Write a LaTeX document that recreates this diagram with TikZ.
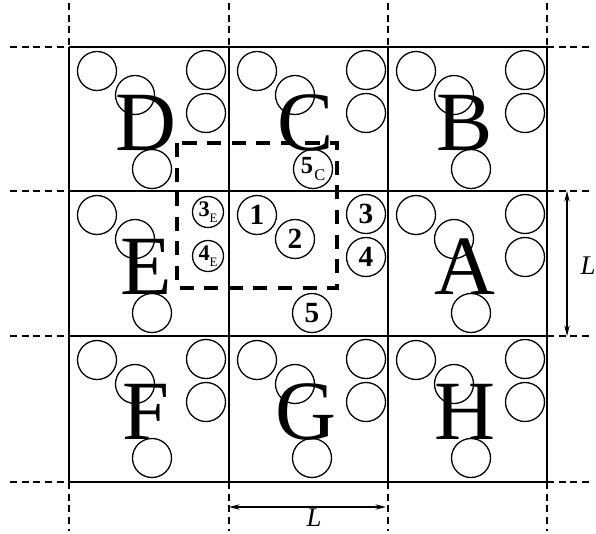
\documentclass[tikz,border=0pt]{standalone}
\usepackage{fontspec}
\setmainfont{Liberation Serif}
\usepackage{tikz}
\usetikzlibrary{
	calc,
	arrows.meta
}

\begin{document}
\begin{tikzpicture}[
	x=0.03cm,
	y=-0.03cm,
	gridline/.style={line width=1.4pt},
	extline/.style={line width=1.1pt, dash pattern=on 6pt off 4pt},
	unitcell/.style={line width=2.6pt, dash pattern=on 12pt off 9pt},
	atom/.style={draw, circle, line width=1.1pt, minimum size=1.17cm, inner sep=0pt},
	smallatom/.style={draw, circle, line width=1.1pt, minimum size=0.93cm, inner sep=0pt},
	celltag/.style={font=\fontsize{72}{72}\selectfont, inner sep=0pt},
	num/.style={font=\fontsize{25}{25}\selectfont\bfseries},
	dimlabel/.style={font=\fontsize{23}{23}\selectfont\itshape, inner sep=0pt},
	dimarrow/.style={<->, >={Stealth[length=9pt,width=4.5pt]}, line width=1.1pt}
	]
	
	\useasboundingbox (0,0) rectangle (596,533);
	
	% lattice lines and their dashed continuation
	\foreach \gx in {69,229,388,547} {
		\draw[gridline] (\gx,47) -- (\gx,482);
		\draw[extline] (\gx,3) -- (\gx,47);
		\draw[extline] (\gx,482) -- (\gx,531);
	}
	\foreach \gy in {47,191,336,482} {
		\draw[gridline] (69,\gy) -- (547,\gy);
		\draw[extline] (10,\gy) -- (69,\gy);
		\draw[extline] (547,\gy) -- (592,\gy);
	}
	
	% image cells
	\foreach \cname/\cx/\cy in {A/388/191,B/388/47,C/229/47,D/69/47,E/69/191,F/69/336,G/229/336,H/388/336} {
		\node[atom] (\cname-1) at (\cx+28,\cy+24) {};
		\node[atom] (\cname-2) at (\cx+66,\cy+48) {};
		\node[celltag] (\cname) at (\cx+77,\cy+76) {\cname};
	}
	\foreach \cname/\cx/\cy in {A/388/191,B/388/47,C/229/47,D/69/47,F/69/336,G/229/336,H/388/336} {
		\node[atom] (\cname-3) at (\cx+137,\cy+23) {};
		\node[atom] (\cname-4) at (\cx+137,\cy+66) {};
	}
	\foreach \cname/\cx/\cy in {A/388/191,B/388/47,D/69/47,E/69/191,F/69/336,G/229/336,H/388/336} {
		\node[atom] (\cname-5) at (\cx+83,\cy+122) {};
	}
	
	% central cell
	\node[atom, num] (one) at (257,215) {1};
	\node[atom, num] (two) at (295,239) {2};
	\node[atom, num] (three) at (366,214) {3};
	\node[atom, num] (four) at (366,257) {4};
	\node[atom, num] (five) at (312,313) {5};
	
	\node[smallatom] (threeE) at (208,212)
	{{\fontsize{19}{19}\selectfont\bfseries 3}\raisebox{-5pt}{\fontsize{11}{11}\selectfont E}};
	\node[smallatom] (fourE) at (208,256)
	{{\fontsize{19}{19}\selectfont\bfseries 4}\raisebox{-5pt}{\fontsize{11}{11}\selectfont E}};
	\node[atom] (fiveC) at (313,169)
	{{\fontsize{21}{21}\selectfont\bfseries 5}\kern1pt\raisebox{-6pt}{\fontsize{14}{14}\selectfont C}};
	
	\draw[unitcell] (177,143) rectangle (337,288);
	
	% period L
	\coordinate (vtop) at (567,191);
	\coordinate (vbot) at (567,336);
	\coordinate (hleft) at (229,507);
	\coordinate (hright) at (386,507);
	\draw[dimarrow] (vtop) -- (vbot);
	\draw[dimarrow] (hleft) -- (hright);
	\node[dimlabel] (Lside) at (588,266) {L};
	\node[dimlabel] (Lbase) at (314,518) {L};
	
\end{tikzpicture}
\end{document}
